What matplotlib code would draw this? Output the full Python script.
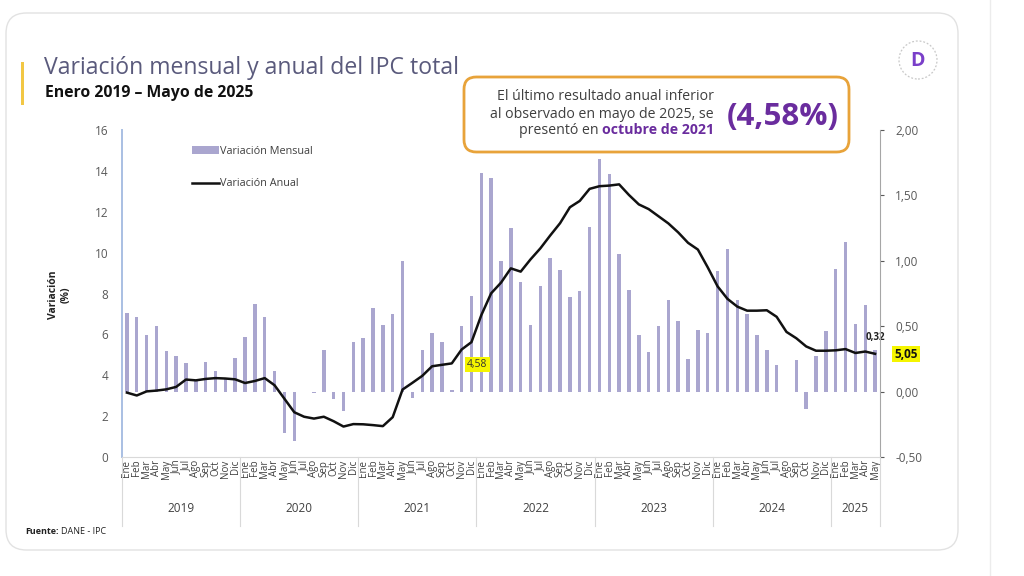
import matplotlib
matplotlib.use("Agg")
import matplotlib.pyplot as plt
import numpy as np
from matplotlib.patches import FancyBboxPatch, Ellipse, Rectangle
from matplotlib.lines import Line2D
import matplotlib.transforms as mtransforms

plt.rcParams['font.family'] = ['Open Sans', 'DejaVu Sans']

# ---------------- data ----------------
month_labels = ['Ene', 'Feb', 'Mar', 'Abr', 'May', 'Jun', 'Jul', 'Ago', 'Sep', 'Oct', 'Nov', 'Dic']
year_labels = ['2019', '2020', '2021', '2022', '2023', '2024', '2025']
months_per_year = [12, 12, 12, 12, 12, 12, 5]

variacion_mensual = [
    0.60, 0.57, 0.43, 0.50, 0.31, 0.27, 0.22, 0.09, 0.23, 0.16, 0.10, 0.26,   # 2019
    0.42, 0.67, 0.57, 0.16, -0.32, -0.38, 0.00, -0.01, 0.32, -0.06, -0.15, 0.38,  # 2020
    0.41, 0.64, 0.51, 0.59, 1.00, -0.05, 0.32, 0.45, 0.38, 0.01, 0.50, 0.73,  # 2021
    1.67, 1.63, 1.00, 1.25, 0.84, 0.51, 0.81, 1.02, 0.93, 0.72, 0.77, 1.26,   # 2022
    1.78, 1.66, 1.05, 0.78, 0.43, 0.30, 0.50, 0.70, 0.54, 0.25, 0.47, 0.45,   # 2023
    0.92, 1.09, 0.70, 0.59, 0.43, 0.32, 0.20, 0.00, 0.24, -0.13, 0.27, 0.46,  # 2024
    0.94, 1.14, 0.52, 0.66, 0.32,                                             # 2025
]
variacion_anual = [
    3.15, 3.01, 3.21, 3.25, 3.31, 3.43, 3.79, 3.75, 3.82, 3.86, 3.84, 3.80,
    3.62, 3.72, 3.86, 3.51, 2.85, 2.19, 1.97, 1.88, 1.97, 1.75, 1.49, 1.61,
    1.60, 1.56, 1.51, 1.95, 3.30, 3.63, 3.97, 4.44, 4.51, 4.58, 5.26, 5.62,
    6.94, 8.01, 8.53, 9.23, 9.07, 9.67, 10.21, 10.84, 11.44, 12.22, 12.53, 13.12,
    13.25, 13.28, 13.34, 12.82, 12.36, 12.13, 11.78, 11.43, 10.99, 10.48, 10.15, 9.28,
    8.35, 7.74, 7.36, 7.16, 7.16, 7.18, 6.86, 6.12, 5.81, 5.41, 5.20, 5.20,
    5.22, 5.28, 5.09, 5.16, 5.05,
]
left_ticks = [0, 2, 4, 6, 8, 10, 12, 14, 16]
right_ticks = [-0.5, 0.0, 0.5, 1.0, 1.5, 2.0]

# ---------------- figure ----------------
W, H = 1024, 576
fig = plt.figure(figsize=(W / 100, H / 100), dpi=100)
fig.patch.set_facecolor('white')

def fx(px):
    return px / W

def fy(py):
    return 1 - py / H

# card
card = FancyBboxPatch((fx(6), fy(550)), fx(952), (550 - 13) / H,
                      boxstyle="round,pad=0,rounding_size=0.02",
                      transform=fig.transFigure, facecolor='white',
                      edgecolor='#e2e2e2', linewidth=1.0, mutation_aspect=W / H,
                      zorder=-10)
fig.add_artist(card)
fig.add_artist(Line2D([fx(990), fx(990)], [0, 1], transform=fig.transFigure,
                      color='#ececec', lw=1, zorder=-10))

# yellow accent bar
fig.add_artist(Rectangle((fx(21), fy(105)), fx(3), 43 / H, transform=fig.transFigure,
                         facecolor='#f2c744', edgecolor='none'))

# title & subtitle
fig.text(fx(44), fy(68), 'Variación mensual y anual del IPC total', fontsize=16.6,
         color='#5a5a7c', va='center', ha='left')
fig.text(fx(45), fy(93), 'Enero 2019 – Mayo de 2025', fontsize=11.3, fontweight='bold',
         color='#111111', va='center', ha='left')

# logo
fig.add_artist(Ellipse((fx(918), fy(60)), 38 / W, 38 / H, transform=fig.transFigure,
                       facecolor='white', edgecolor='#c8c8c8', lw=0.9, ls=(0, (1.5, 1.5)),
                       zorder=2))
fig.text(fx(918), fy(61), 'D', fontsize=14, fontweight='bold', color='#7a3fc9',
         ha='center', va='center', zorder=3)

# ---------------- axes ----------------
ax_bar = fig.add_axes([fx(122), fy(457), fx(880 - 122), (457 - 130) / H])
ax_line = ax_bar.twinx()
ax_bar.patch.set_visible(False)
ax_line.patch.set_visible(False)

n = len(variacion_mensual)
x = np.arange(n)

ax_bar.bar(x, variacion_mensual, width=0.35, color='#aaa6cf', zorder=2,
           label='Variación Mensual')
ax_bar.set_ylim(-0.5, 2.0)
ax_bar.set_xlim(-0.5, n - 0.5)
ax_bar.yaxis.tick_right()
ax_bar.set_yticks(right_ticks)
ax_bar.set_yticklabels([f'{v:.2f}'.replace('.', ',') for v in right_ticks])
ax_bar.tick_params(axis='y', labelsize=8.5, colors='#595959', length=3, pad=8)

ax_line.plot(x, variacion_anual, color='#111111', lw=1.8, zorder=3,
             label='Variación Anual', solid_joinstyle='round')
ax_line.set_ylim(0, 16)
ax_line.yaxis.tick_left()
ax_line.set_yticks(left_ticks)
ax_line.tick_params(axis='y', labelsize=8.5, colors='#595959', length=0, pad=10)

for a in (ax_bar, ax_line):
    for s in a.spines.values():
        s.set_visible(False)
ax_line.spines['left'].set_visible(True)
ax_line.spines['left'].set_color('#a9bfe3')
ax_line.spines['left'].set_linewidth(1.4)
ax_line.spines['right'].set_visible(True)
ax_line.spines['right'].set_color('#a6a6a6')
ax_line.spines['bottom'].set_visible(True)
ax_line.spines['bottom'].set_color('#d9d9d9')

# month tick labels
ax_bar.set_xticks(x)
labels = [month_labels[i % 12] for i in range(n)]
ax_bar.set_xticklabels(labels, rotation=90, fontsize=7, color='#404040')
ax_bar.tick_params(axis='x', length=0, pad=2)
ax_line.tick_params(axis='x', length=0)

# year groups
trans = mtransforms.blended_transform_factory(ax_bar.transData, ax_bar.transAxes)
start = 0
bounds = [-0.5]
for yl, m in zip(year_labels, months_per_year):
    mid = start + (m - 1) / 2
    ax_bar.text(mid, -0.158, yl, transform=trans, ha='center', va='center',
                fontsize=8.5, color='#404040')
    start += m
    bounds.append(start - 0.5)
for b in bounds:
    ax_bar.add_line(Line2D([b, b], [0, -0.21], transform=trans, color='#d9d9d9',
                           lw=0.8, clip_on=False))

# y label
fig.text(fx(60), fy(295), 'Variación\n(%)', rotation=90, fontsize=7.5,
         fontweight='bold', color='#222222', ha='center', va='center',
         multialignment='center')

# legend
h1, l1 = ax_bar.get_legend_handles_labels()
h2, l2 = ax_line.get_legend_handles_labels()
leg = ax_line.legend(h1 + h2, l1 + l2, loc='upper left',
                     bbox_to_anchor=(fx(182), fy(136)), bbox_transform=fig.transFigure,
                     frameon=False, fontsize=7.8, handlelength=2.5, handletextpad=0.1,
                     labelspacing=2.0)
for t in leg.get_texts():
    t.set_color('#404040')

# point annotations
oct21 = 33
ax_line.text(oct21 + 2.6, variacion_anual[oct21] - 0.05, f'{variacion_anual[oct21]:.2f}'.replace('.', ','),
             fontsize=7.5, color='#333333', ha='center', va='center', zorder=5,
             bbox=dict(boxstyle='square,pad=0.2', facecolor='#f5f500', edgecolor='none'))
ax_bar.text(n - 1, variacion_mensual[-1] + 0.05, f'{variacion_mensual[-1]:.2f}'.replace('.', ','),
            fontsize=7, fontweight='bold', color='#222222', ha='center', va='bottom', zorder=5)
fig.text(fx(906), fy(354), f'{variacion_anual[-1]:.2f}'.replace('.', ','),
         fontsize=8.5, fontweight='bold', color='#111111', ha='center', va='center',
         bbox=dict(boxstyle='square,pad=0.15', facecolor='#f5f500', edgecolor='none'))

# annotation box
box = FancyBboxPatch((fx(464), fy(152)), fx(385), (152 - 77) / H,
                     boxstyle="round,pad=0,rounding_size=0.012",
                     transform=fig.transFigure, facecolor='white',
                     edgecolor='#e8a33a', linewidth=2.0, mutation_aspect=W / H, zorder=10)
fig.add_artist(box)
fs_box = 10.2
fig.text(fx(714), fy(97), 'El último resultado anual inferior', fontsize=fs_box,
         color='#3f3f3f', ha='right', va='center', zorder=11)
fig.text(fx(714), fy(114), 'al observado en mayo de 2025, se', fontsize=fs_box,
         color='#3f3f3f', ha='right', va='center', zorder=11)
bold_t = fig.text(fx(714), fy(130), 'octubre de 2021', fontsize=fs_box, fontweight='bold',
                  color='#6a2c9e', ha='right', va='center', zorder=11)
fig.canvas.draw()
bb = bold_t.get_window_extent()
fig.text(bb.x0 / W, fy(130), 'presentó en ', fontsize=fs_box, color='#3f3f3f',
         ha='right', va='center', zorder=11)
fig.text(fx(783), fy(117), '(4,58%)', fontsize=22.5, fontweight='bold',
         color='#6a2c9e', ha='center', va='center', zorder=11)

# source
fig.text(fx(25), fy(531), 'Fuente:', fontsize=6.5, fontweight='bold', color='#222222',
         ha='left', va='center')
fig.text(fx(61), fy(531), 'DANE - IPC', fontsize=6.5, color='#222222', ha='left', va='center')

fig.savefig('out.png', dpi=100, facecolor='white')
